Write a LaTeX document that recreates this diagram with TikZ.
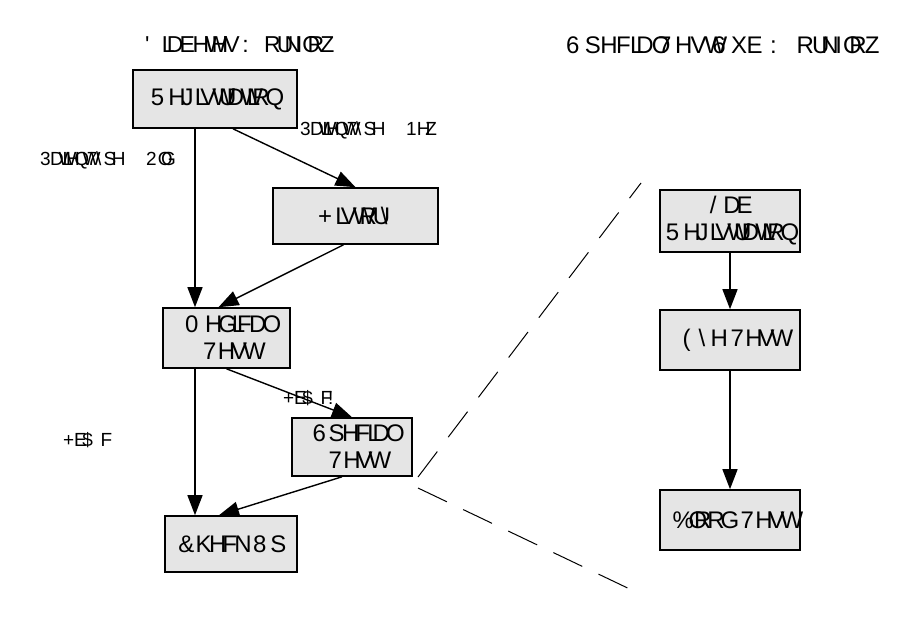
\documentclass[tikz,border=0pt]{standalone}
\usepackage{fontspec}
\newfontfamily\gf{Liberation Sans}
\usetikzlibrary{arrows.meta,calc}
\definecolor{boxfill}{HTML}{E5E5E5}
\makeatletter
\newlength\garb@w
\def\garbglyph{}
\def\garb@end{\garb@end@}
\newcommand\garb[1]{\garb@loop#1\garb@end}
\def\garb@loop#1{\ifx\garb@end#1\else\garb@ch{#1}\expandafter\garb@loop\fi}
\def\garb@ch#1{%
  \ifx|#1\settowidth\garb@w{\ }\hbox to\garb@w{}%
  \else
    \settowidth\garb@w{#1}%
    \ifnum`#1<62 \hbox to\garb@w{}\else\hbox to\garb@w{\garbglyph\char\numexpr`#1-29\relax\hss}\fi
  \fi}
\makeatother
\begin{document}
\begin{tikzpicture}[x=1pt,y=-1pt,
  stepbox/.style={draw, line width=1.6pt, fill=boxfill, inner sep=0pt, align=center,
    font=\gf\fontsize{24}{27}\selectfont},
  arr/.style={-{Triangle[length=20pt,width=15pt]}, line width=1.4pt},
  lbl/.style={font=\gf\fontsize{15}{18}\selectfont\def\garbglyph{\fontsize{19}{21}\selectfont},
    inner sep=0pt, anchor=west},
  ttl/.style={font=\gf\fontsize{23}{26}\selectfont, inner sep=0pt, anchor=west},
  zoomline/.style={dashed, dash pattern=on 32pt off 18pt, line width=1pt}]
\useasboundingbox (0,0) rectangle (907,622);
% titles
\node[ttl] (t1) at (145,45) {\garb{Diabetes|Workflow}};
\node[ttl, font=\gf\fontsize{28}{30}\selectfont\def\garbglyph{\fontsize{24}{26}\selectfont}] (t2) at (566,45) {\garb{SpecialTestSub|Workflow}};
% main workflow
\node[stepbox, minimum width=164pt, minimum height=58pt] (reg) at (215,99) {\garb{Registration}};
\node[stepbox, minimum width=165pt, minimum height=56pt] (hist) at (355.5,216) {\garb{History}};
\node[stepbox, minimum width=127pt, minimum height=60pt] (med) at (226.5,338) {\garb{Medical}\\\garb{Test}};
\node[stepbox, minimum width=120pt, minimum height=58pt] (spec) at (352,447) {\garb{Special}\\\garb{Test}};
\node[stepbox, minimum width=132pt, minimum height=56pt] (chk) at (231,544) {\garb{Check|Up}};
% sub workflow
\node[stepbox, minimum width=140pt, minimum height=62pt] (lab) at (730,221) {\garb{Lab}\\\garb{Registration}};
\node[stepbox, minimum width=140pt, minimum height=60pt] (eye) at (730,340) {\garb{Eye|Test}};
\node[stepbox, minimum width=140pt, minimum height=60pt] (blood) at (730,520) {\garb{Blood|Test}};
% vertical line x
\coordinate (vx) at (195,0);
% edges
\draw[arr] (reg.south -| vx) -- (med.north -| vx);
\draw[arr] ($(reg.south)+(18,0)$) -- (hist.north);
\draw[arr] ($(hist.south)+(-12,0)$) -- ($(med.north)+(-8,0)$);
\draw[arr] (med.south) -- (spec.north);
\draw[arr] (med.south -| vx) -- (chk.north -| vx);
\draw[arr] ($(spec.south)+(-10,0)$) -- ($(chk.north)+(-12,0)$);
\draw[arr] (lab.south) -- (eye.north);
\draw[arr] (eye.south) -- (blood.north);
% edge labels
\node[lbl] (l1) at (300,130) {\garb{PatientType|==|New}};
\node[lbl] (l2) at (40,160) {\garb{PatientType|==|Old}};
\node[lbl] (l3) at (283,398) {\garb{HbA1c>6.5}};
\node[lbl] (l4) at (63,440) {\garb{HbA1c<=6.5}};
% zoom indicator lines
\coordinate (z1a) at (418,477);
\coordinate (z1b) at (641,183);
\coordinate (z2a) at (418,488);
\coordinate (z2b) at (636,592);
\draw[zoomline] (z1a) -- (z1b);
\draw[zoomline] (z2a) -- (z2b);
\end{tikzpicture}
\end{document}
